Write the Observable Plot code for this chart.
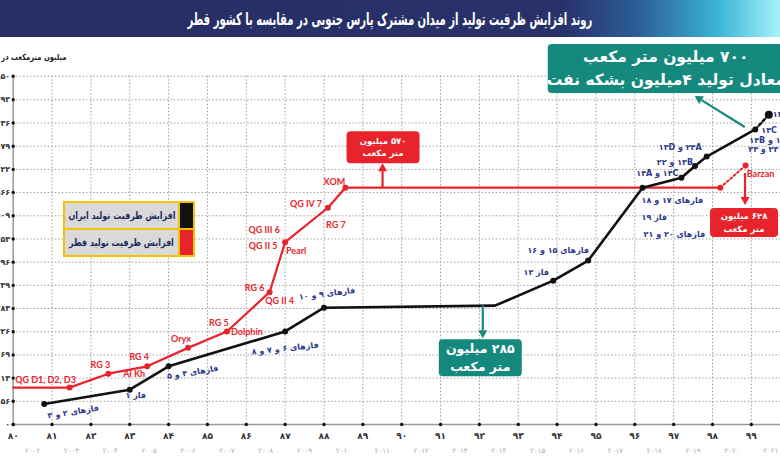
<!DOCTYPE html>
<html><head><meta charset="utf-8">
<script src="https://cdn.jsdelivr.net/npm/d3@7"></script>
<script src="https://cdn.jsdelivr.net/npm/@observablehq/plot@0.6"></script>
<style>
html,body{margin:0;padding:0;background:#fff;}
#wrap{position:relative;width:780px;height:470px;overflow:hidden;background:#fff;}
#title{position:absolute;left:0;top:0;width:780px;height:37px;
 background:linear-gradient(90deg,#272e66 0%,#29316a 72%,#2d5f99 82%,#3ab4d6 92%,#a6f2fa 100%);
 display:flex;align-items:center;justify-content:center;}
#title span{display:inline-block;color:#fff;font:bold 17px "DejaVu Sans";direction:rtl;white-space:nowrap;transform:scale(0.59,1);}
#chart{position:absolute;left:0;top:37px;}
#ylab{position:absolute;right:714px;top:52px;direction:rtl;white-space:nowrap;font:bold 8.5px "DejaVu Sans";color:#222;transform:scale(0.8,1);transform-origin:right center;}
#legend{position:absolute;left:63px;top:201px;width:128px;border:2px solid #f3c300;background:#d9d9d9;}
#legend .row{display:flex;height:25px;direction:rtl;}
#legend .row + .row{border-top:2px solid #f3c300;}
#legend .sw{flex:0 0 13px;width:13px;border-left:2px solid #f3c300;}
#legend .tx{flex:1 1 auto;min-width:0;display:flex;align-items:center;justify-content:center;overflow:visible;}
#legend .tx span{display:inline-block;white-space:nowrap;font:bold 10px "DejaVu Sans";color:#1f2a5e;direction:rtl;transform:scale(0.8,1);}
</style></head>
<body>
<div id="wrap">
  <div id="title"><span>روند افزایش ظرفیت تولید از میدان مشترک پارس جنوبی در مقایسه با کشور قطر</span></div>
  <div id="chart"></div>
  <div id="ylab">میلیون مترمکعب در روز</div>
  <div id="legend"></div>
</div>
<script>
// ---- data ----
const iranYears  = [80.8, 83, 84, 87, 88, 92.4, 93.9, 94.8, 96.2, 97.2, 97.55, 97.85, 99.1, 99.45];
const iranValues = [50, 85, 142, 227, 285, 290, 351, 400, 578, 602, 631, 654, 720, 756];
const iranDots   = [true, true, true, true, true, false, true, true, true, true, true, true, true, true];
const qatarYears  = [80, 81.45, 82.45, 83.45, 84.5, 85.5, 86.6, 87, 88.1, 88.55, 98.2, 98.85];
const qatarValues = [90, 90, 124, 142, 187, 227, 323, 445, 529, 578, 578, 632];
const qatarDots   = [false, true, true, true, true, true, true, true, true, true, true, true];

const iranLabels = [
  [0, "فازهای ۲ و ۳"], [1, "فاز ۱"], [2, "فازهای ۴ و ۵"], [3, "فازهای ۶ و ۷ و ۸"],
  [4, "فازهای ۹ و ۱۰"], [6, "فاز ۱۲"], [7, "فازهای ۱۵ و ۱۶"],
  [8, "فازهای ۱۷ و ۱۸"], [8, "فاز ۱۹"], [8, "فازهای ۲۰ و ۲۱"],
  [9, "۱۴A و\u200E ۱۴C"], [10, "۲۲ و\u200E ۱۳B"], [11, "۱۳D و\u200E ۲۴A"],
  [12, "۱۳C"], [12, "۱۴B و\u200E ۱۱"], [12, "۲۴ و\u200E ۲۳"], [13, "۱۳"]
];
const qatarLabels = [
  [1, "QG D1, D2, D3"], [2, "RG 3"], [3, "RG 4"], [3, "Al Kh"], [4, "Oryx"],
  [5, "RG 5"], [5, "Dolphin"], [6, "RG 6"], [6, "QG II 4"], [7, "QG III 6"],
  [7, "QG II 5"], [7, "Pearl"], [8, "QG IV 7"], [8, "RG 7"], [9, "XOM"], [11, "Barzan"]
];

const yTicks  = [0, 56.6, 113.2, 169.8, 226.4, 283, 339.6, 396.2, 452.8, 509.4, 566, 622.6, 679.2, 735.8, 792.4, 850];
const yLabels = ["۰","۵۶","۱۱۳","۱۶۹","۲۲۶","۲۸۳","۳۳۹","۳۹۶","۴۵۳","۵۰۹","۵۶۶","۶۲۲","۶۷۹","۷۳۶","۷۹۲","۸۵۰"];
const xYears  = [80,81,82,83,84,85,86,87,88,89,90,91,92,93,94,95,96,97,98,99];
const xLabels = ["۸۰","۸۱","۸۲","۸۳","۸۴","۸۵","۸۶","۸۷","۸۸","۸۹","۹۰","۹۱","۹۲","۹۳","۹۴","۹۵","۹۶","۹۷","۹۸","۹۹"];
const gregLabels = ["۲۰۰۲","۲۰۰۳","۲۰۰۴","۲۰۰۵","۲۰۰۶","۲۰۰۷","۲۰۰۸","۲۰۰۹","۲۰۱۰","۲۰۱۱","۲۰۱۲","۲۰۱۳","۲۰۱۴","۲۰۱۵","۲۰۱۶","۲۰۱۷","۲۰۱۸","۲۰۱۹","۲۰۲۰","۲۰۲۱"];

const seriesNames = ["افزایش ظرفیت تولید ایران", "افزایش ظرفیت تولید قطر"];

// callouts (anchored on data points)
const calloutTexts = [
  ["۵۷۰ میلیون", "متر مکعب"],
  ["۲۸۵ میلیون", "متر مکعب"],
  ["۶۲۸ میلیون", "متر مکعب"],
  ["۷۰۰ میلیون متر مکعب", "معادل تولید ۴میلیون بشکه نفت"]
];
const calloutAnchors = [[89.52, 578], [92.1, 289.5], [98.85, 632], [99.1, 720]];

// ---- layout / styles ----
const RED = "#e8232b", BLACK = "#111", NAVY = "#2c3a8c", TEAL = "#15897d";
const iranLayout = [
  [29, 8, "middle", -9], [6, 6, "middle", 0], [24, 6, "middle", -9], [0, 17, "middle", -6],
  [3, -14, "middle", -7], [-17, -8, "middle", 0], [-30, -10, "middle", 0],
  [-1, 13, "start", 0], [-1, 30, "start", 0], [1, 47, "start", 0],
  [-3, -4, "end", 0], [-2, -4, "end", 0], [-5, -9, "end", 0],
  [6, 1, "start", 0], [-6, 11, "start", 0], [-7, 20, "start", 0], [4, 0, "start", 0]
];
const qatarLayout = [
  [-24, -8], [-8, -9], [-8, -9], [-13, 8], [-7, -9], [-8, -8], [20, 1], [-15, -4], [10, 9],
  [-21, -12], [-22, 4], [11, 9], [-22, -4], [8, 17], [-11, -6], [15, 9]
];
const calloutStyle = [
  {fill: RED,  arrow: [0, 0, 0, -24],   box: [-36, -56, 73, 32], fs: 8.5},
  {fill: TEAL, arrow: [0, 0, 0, 33],    box: [-44, 34, 83, 37],  fs: 12.5},
  {fill: RED,  arrow: [0, 8, 0, 40],    box: [-35, 43, 68, 29],  fs: 8.5},
  {fill: TEAL, arrow: [-10, -2, -60, -33], box: [-207, -85, 236, 49], fs: 15.5}
];

const iran = iranYears.map((y, i) => ({year: y, value: iranValues[i], dot: iranDots[i], i}));
const qatar = qatarYears.map((y, i) => ({year: y, value: qatarValues[i], dot: qatarDots[i], i}));
const iranLab = iranLabels.map(([i, t], k) => ({year: iranYears[i], value: iranValues[i], text: t, k}));
const qatarLab = qatarLabels.map(([i, t], k) => ({year: qatarYears[i], value: qatarValues[i], text: t, k}));

function drawCallouts(index, scales) {
  const {x, y} = scales;
  const g = d3.create("svg:g");
  calloutAnchors.forEach(([yr, v], k) => {
    const st = calloutStyle[k];
    const ax = x(yr), ay = y(v);
    const [x1, y1, x2, y2] = st.arrow;
    const X1 = ax + x1, Y1 = ay + y1, X2 = ax + x2, Y2 = ay + y2;
    const ang = Math.atan2(Y2 - Y1, X2 - X1), L = 8, W = 4.5;
    const bx = X2 - L * Math.cos(ang), by = Y2 - L * Math.sin(ang);
    g.append("line").attr("x1", X1).attr("y1", Y1).attr("x2", bx).attr("y2", by)
      .attr("stroke", st.fill).attr("stroke-width", 2.2);
    const px = -Math.sin(ang) * W, py = Math.cos(ang) * W;
    g.append("path").attr("d", `M${X2},${Y2}L${bx + px},${by + py}L${bx - px},${by - py}Z`).attr("fill", st.fill);
    const [bxo, byo, bw, bh] = st.box;
    g.append("rect").attr("x", ax + bxo).attr("y", ay + byo).attr("width", bw).attr("height", bh)
      .attr("rx", 4).attr("fill", st.fill);
    const lines = calloutTexts[k];
    const cx = ax + bxo + bw / 2, cy = ay + byo + bh / 2;
    const lh = st.fs * 1.45;
    lines.forEach((t, j) => {
      g.append("text").attr("x", cx).attr("y", cy + (j - (lines.length - 1) / 2) * lh)
        .attr("text-anchor", "middle").attr("dominant-baseline", "central")
        .attr("direction", "rtl").style("direction", "rtl")
        .attr("fill", "#fff").attr("font-family", "DejaVu Sans").attr("font-weight", "bold")
        .attr("font-size", st.fs).text(t);
    });
  });
  return g.node();
}

const chart = Plot.plot({
  width: 780, height: 433,
  marginLeft: 12.7, marginRight: 0, marginTop: 38.7, marginBottom: 46,
  x: {domain: [80, 99.75], axis: null},
  y: {domain: [0, 850], axis: null},
  style: {background: "transparent", overflow: "visible"},
  marks: [
    Plot.ruleX(xYears.slice(1), {stroke: "#9d9d9d", strokeDasharray: "1.5,2", strokeWidth: 1}),
    Plot.ruleY(yTicks.slice(1), {stroke: "#9d9d9d", strokeDasharray: "1.5,2", strokeWidth: 1}),
    Plot.ruleX([80], {stroke: "#999", strokeWidth: 1.5}),
    Plot.ruleY([0], {stroke: "#999", strokeWidth: 1.5}),
    Plot.dot(yTicks, {x: () => 80, y: d => d, r: 1.7, fill: "#111"}),
    Plot.dot(xYears, {x: d => d, y: () => 0, r: 1.7, fill: "#111"}),
    Plot.text(yTicks, {x: () => 80, y: d => d, text: (d, i) => yLabels[i], textAnchor: "end", dx: -3,
      fontFamily: "DejaVu Sans", fontWeight: "bold", fontSize: 8, fill: "#333"}),
    Plot.text(xYears, {x: d => d, frameAnchor: "bottom", dy: 14, text: (d, i) => xLabels[i],
      fontFamily: "DejaVu Sans", fontWeight: "bold", fontSize: 9, fill: "#333"}),
    Plot.text(xYears, {x: d => d + 0.5, frameAnchor: "bottom", dy: 28, text: (d, i) => gregLabels[i],
      fontFamily: "DejaVu Sans", fontSize: 7, fill: "#aaa"}),
    // Qatar
    Plot.line(qatar.slice(0, 11), {x: "year", y: "value", stroke: RED, strokeWidth: 2.2}),
    Plot.line(qatar.slice(10), {x: "year", y: "value", stroke: RED, strokeWidth: 2, strokeDasharray: "2,2.5"}),
    // Iran
    Plot.line(iran.slice(0, 13), {x: "year", y: "value", stroke: BLACK, strokeWidth: 2.6}),
    Plot.line(iran.slice(12), {x: "year", y: "value", stroke: BLACK, strokeWidth: 2.4, strokeDasharray: "3,2.5"}),
    Plot.dot(qatar.filter(d => d.dot), {x: "year", y: "value", r: 3, fill: RED}),
    Plot.dot(iran.filter(d => d.dot && d.i < 13), {x: "year", y: "value", r: 3, fill: BLACK}),
    Plot.dot(iran.filter(d => d.i === 13), {x: "year", y: "value", r: 4, fill: BLACK}),
    // labels
    ...qatarLab.map(d => Plot.text([d], {x: "year", y: "value", text: "text",
      dx: qatarLayout[d.k][0], dy: qatarLayout[d.k][1], fill: RED,
      fontFamily: "Lato", fontWeight: "bold", fontSize: 9})),
    ...iranLab.map(d => Plot.text([d], {x: "year", y: "value", text: "text",
      dx: iranLayout[d.k][0], dy: iranLayout[d.k][1], textAnchor: iranLayout[d.k][2], rotate: iranLayout[d.k][3],
      fill: NAVY, fontFamily: "DejaVu Sans", fontWeight: "bold", fontSize: 8})),
    drawCallouts
  ]
});
document.getElementById("chart").appendChild(chart);

// legend
const legend = d3.select("#legend");
[BLACK, RED].forEach((c, i) => {
  const row = legend.append("div").attr("class", "row");
  row.append("div").attr("class", "sw").style("background", c);
  row.append("div").attr("class", "tx").append("span").text(seriesNames[i]);
});
</script>
</body></html>
